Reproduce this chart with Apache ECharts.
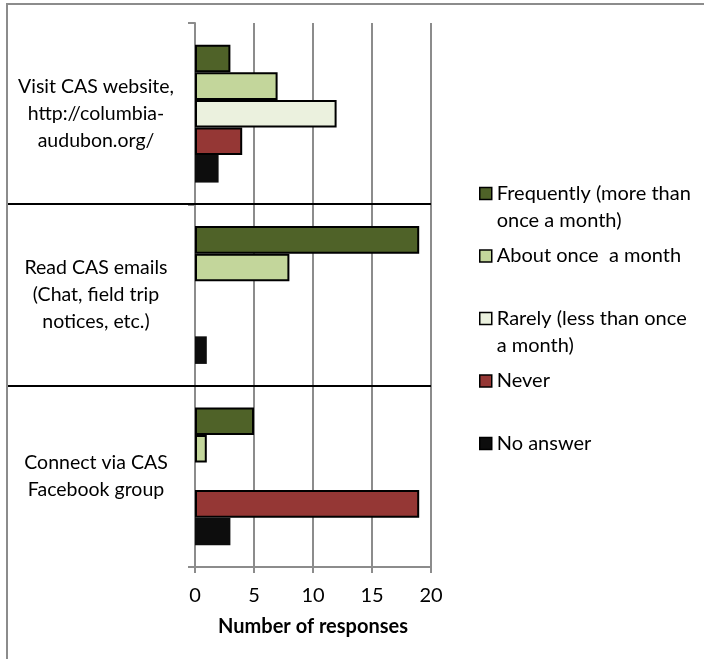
<!DOCTYPE html>
<html>
<head>
<meta charset="utf-8">
<script src="https://cdn.jsdelivr.net/npm/echarts@6/dist/echarts.min.js"></script>
<style>
  html, body { margin: 0; padding: 0; background: #fff; }
  #main { width: 704px; height: 659px; }
</style>
</head>
<body>
<div id="main"></div>
<script>
// 分类（从上到下）
var categories = [
    "Visit CAS website,\nhttp://columbia-\naudubon.org/",
    "Read CAS emails\n(Chat, field trip\nnotices, etc.)",
    "Connect via CAS\nFacebook group"
];

var seriesNames = [
    "Frequently (more than\nonce a month)",
    "About once  a month",
    "Rarely (less than once\na month)",
    "Never",
    "No answer"
];

var frequently = [3, 19, 5];
var aboutMonthly = [7, 8, 1];
var rarely = [12, 0, 0];
var never = [4, 0, 19];
var noAnswer = [2, 1, 3];

var xTicks = [0, 5, 10, 15, 20];

var colorList = ["#4f6228", "#c3d69b", "#ebf1de", "#953735", "#0d0d0d"];
var valueList = [frequently, aboutMonthly, rarely, never, noAnswer];

var FONT = "Lato";
var GRAY = "#8c8c8c";

var chart = echarts.init(document.getElementById("main"));

var series = [];
for (var i = 0; i < seriesNames.length; i++) {
    // 值为0的柱子不画边框
    var items = [];
    for (var j = 0; j < valueList[i].length; j++) {
        var v = valueList[i][j];
        items.push(v === 0 ? { value: v, itemStyle: { borderWidth: 0 } } : v);
    }
    series.push({
        name: seriesNames[i],
        type: "bar",
        data: items,
        barGap: "0%",
        barCategoryGap: "24%",
        itemStyle: {
            color: colorList[i],
            borderColor: "#000",
            borderWidth: i === 4 ? 0 : 2
        },
        emphasis: { disabled: true }
    });
}

var option = {
    animation: false,
    grid: { left: 195, right: 273, top: 23, bottom: 92, containLabel: false },
    legend: {
        orient: "vertical",
        left: 474,
        top: 148,
        itemWidth: 12,
        itemHeight: 12,
        itemGap: -18.5,
        icon: "rect",
        itemStyle: { borderColor: "#000", borderWidth: 1.5 },
        textStyle: { fontFamily: FONT, fontSize: 20, color: "#000", lineHeight: 27 },
        formatter: function (name) {
            var parts = name.split("\n");
            return " \n" + parts[0] + "\n" + (parts[1] || " ");
        },
        data: seriesNames
    },
    xAxis: {
        type: "value",
        min: xTicks[0],
        max: xTicks[xTicks.length - 1],
        interval: 5,
        name: "Number of responses",
        nameLocation: "middle",
        nameGap: 50,
        nameTextStyle: { fontFamily: FONT, fontSize: 20, fontWeight: "bold", color: "#000" },
        axisLine: { show: true, lineStyle: { color: GRAY, width: 2 } },
        axisTick: { show: true, length: 6, lineStyle: { color: GRAY, width: 2 } },
        axisLabel: { fontFamily: FONT, fontSize: 20, color: "#000", margin: 19 },
        splitLine: { show: true, lineStyle: { color: GRAY, width: 2 } }
    },
    yAxis: {
        type: "category",
        inverse: true,
        data: categories,
        axisLine: { show: true, lineStyle: { color: GRAY, width: 2 } },
        axisTick: { show: true, length: 7, lineStyle: { color: GRAY, width: 2 } },
        axisLabel: {
            fontFamily: FONT, fontSize: 19.5, color: "#000",
            lineHeight: 27, align: "center", margin: 99
        },
        splitLine: { show: false }
    },
    series: series
};

chart.setOption(option);

// 分类之间的黑色分隔线，根据坐标轴换算位置
var lines = [];
var gridRight = 704 - option.grid.right;
for (var k = 0; k < categories.length - 1; k++) {
    var y1 = chart.convertToPixel({ yAxisIndex: 0 }, k);
    var y2 = chart.convertToPixel({ yAxisIndex: 0 }, k + 1);
    var yy = Math.round((y1 + y2) / 2);
    lines.push({
        type: "line",
        shape: { x1: 8, y1: yy, x2: gridRight, y2: yy },
        style: { stroke: "#000", lineWidth: 2 },
        z: 10
    });
}
// 外框（只露出左边和上边）
lines.push({
    type: "rect",
    shape: { x: 7, y: 4, width: 720, height: 680 },
    style: { fill: "none", stroke: GRAY, lineWidth: 2 },
    z: 0
});
chart.setOption({ graphic: lines });
</script>
</body>
</html>
